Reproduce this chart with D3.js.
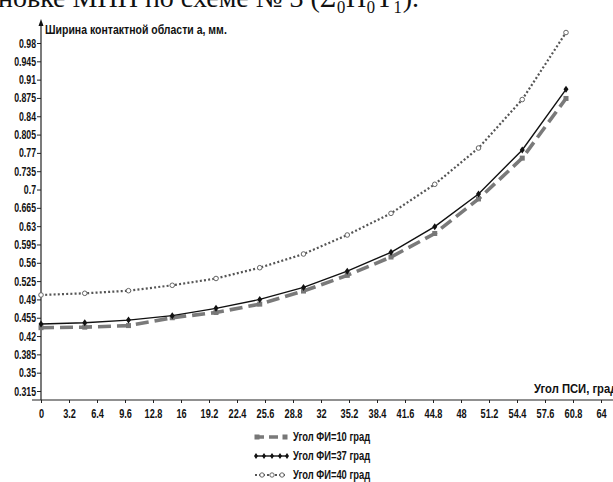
<!DOCTYPE html>
<html><head><meta charset="utf-8">
<script src="https://cdn.jsdelivr.net/npm/d3@7"></script>
<style>
html,body{margin:0;padding:0;background:#fff;}
svg{display:block;}
.t{font-family:"Liberation Sans","Arial",sans-serif;font-weight:bold;fill:#111;}
</style></head>
<body>
<svg id="c" width="613" height="482"></svg>
<script>
const xValues = [0,5,10,15,20,25,30,35,40,45,50,55,60];
const phi10 = [0.436,0.437,0.440,0.455,0.465,0.481,0.506,0.536,0.571,0.616,0.682,0.760,0.874];
const phi37 = [0.443,0.4455,0.4505,0.459,0.473,0.490,0.513,0.544,0.580,0.629,0.6915,0.7755,0.8915];
const phi40 = [0.4985,0.5017,0.5067,0.517,0.530,0.5506,0.5768,0.6131,0.6545,0.710,0.7793,0.872,1.000];
const seriesNames = ["Угол ФИ=10 град","Угол ФИ=37 град","Угол ФИ=40 град"];
const xTicks = [0,3.2,6.4,9.6,12.8,16,19.2,22.4,25.6,28.8,32,35.2,38.4,41.6,44.8,48,51.2,54.4,57.6,60.8,64];
const yTicks = [0.315,0.35,0.385,0.42,0.455,0.49,0.525,0.56,0.595,0.63,0.665,0.7,0.735,0.77,0.805,0.84,0.875,0.91,0.945,0.98];
const yTitle = "Ширина контактной области а, мм.";
const xTitle = "Угол ПСИ, град";
const headerText = "новке МНП по схеме № 3 (Σ₀H₀T₁).";

const svg = d3.select("#c");
const x = d3.scaleLinear().domain([0,64]).range([41,601]);
const y = d3.scaleLinear().domain([0.315,0.98]).range([391,43]);

function label(px, py, txt, size, sx, weight, anchor){
  const g = svg.append("g").attr("transform",`translate(${px},${py}) scale(${sx},1)`);
  g.append("text").attr("class","t").attr("font-size",size).attr("font-weight",weight||"bold")
    .attr("text-anchor",anchor||"start").text(txt);
  return g;
}

// header (cropped text)
svg.append("text").attr("x",-2).attr("y",7).attr("font-family","Liberation Serif, Times New Roman, serif")
  .attr("font-size",28).attr("fill","#111").text(headerText);

// axes
const XS = 0.68, YS = 0.7;
const xAxis = d3.axisBottom(x).tickValues(xTicks).tickSize(3).tickFormat(d=>String(d));
const gx = svg.append("g").attr("transform","translate(0,400)").call(xAxis);
gx.select(".domain").remove();
gx.selectAll("text").attr("class","t").attr("font-size",13.5).attr("dy",null).attr("y",18)
  .attr("transform",`scale(${XS},1)`);
gx.selectAll("line").attr("stroke","#222");
svg.append("line").attr("x1",32).attr("x2",613).attr("y1",400).attr("y2",400).attr("stroke","#222").attr("stroke-width",1.2);

const yAxis = d3.axisLeft(y).tickValues(yTicks).tickSize(4).tickFormat(d=>String(d));
const gy = svg.append("g").attr("transform","translate(41,0)").call(yAxis);
gy.select(".domain").remove();
gy.selectAll("text").attr("class","t").attr("font-size",12.5).attr("x",-5/YS)
  .attr("transform",`scale(${YS},1)`);
gy.selectAll("line").attr("stroke","#222");
svg.append("line").attr("x1",41).attr("x2",41).attr("y1",400).attr("y2",22).attr("stroke","#222").attr("stroke-width",1.2);
svg.append("path").attr("d","M41,19 L38.5,26 L43.5,26 Z").attr("fill","#111");

label(45, 34, yTitle, 12.5, 0.84);
label(534, 393, xTitle, 12.5, 0.9);

const line = d3.line().x(d=>x(d[0])).y(d=>y(d[1]));
const mk = arr => xValues.map((v,i)=>[v,arr[i]]);

// series 40 dotted
const s40 = mk(phi40);
svg.append("path").datum(s40).attr("d",line).attr("fill","none").attr("stroke","#555")
  .attr("stroke-width",2.2).attr("stroke-dasharray","2,2.2");
svg.selectAll(".c40").data(s40).enter().append("circle").attr("cx",d=>x(d[0])).attr("cy",d=>y(d[1]))
  .attr("r",2.3).attr("fill","#fff").attr("stroke","#666").attr("stroke-width",1);

// series 10 dashed gray
const s10 = mk(phi10);
svg.append("path").datum(s10).attr("d",line).attr("fill","none").attr("stroke","#7a7a7a")
  .attr("stroke-width",3.6).attr("stroke-dasharray","13,6");
svg.selectAll(".c10").data(s10).enter().append("rect").attr("x",d=>x(d[0])-2.5).attr("y",d=>y(d[1])-2.5)
  .attr("width",5).attr("height",5).attr("fill","#777");

// series 37 solid black
const s37 = mk(phi37);
svg.append("path").datum(s37).attr("d",line).attr("fill","none").attr("stroke","#111").attr("stroke-width",1.4);
svg.selectAll(".c37").data(s37).enter().append("path")
  .attr("transform",d=>`translate(${x(d[0])},${y(d[1])})`)
  .attr("d","M0,-3.5 L2.5,0 L0,3.5 L-2.5,0 Z").attr("fill","#111");

// legend
const ly = [437,456,475];
const lg = svg.append("g");
lg.append("line").attr("x1",255).attr("x2",287).attr("y1",ly[0]).attr("y2",ly[0]).attr("stroke","#7a7a7a").attr("stroke-width",3.6).attr("stroke-dasharray","9,5");
[257,285].forEach(cx=>lg.append("rect").attr("x",cx-2.5).attr("y",ly[0]-2.5).attr("width",5).attr("height",5).attr("fill","#777"));
lg.append("line").attr("x1",255).attr("x2",287).attr("y1",ly[1]).attr("y2",ly[1]).attr("stroke","#111").attr("stroke-width",1.4);
[256,264,272,280,287].forEach(cx=>lg.append("path").attr("transform",`translate(${cx},${ly[1]})`).attr("d","M0,-3 L2,0 L0,3 L-2,0 Z").attr("fill","#111"));
lg.append("line").attr("x1",255).attr("x2",287).attr("y1",ly[2]).attr("y2",ly[2]).attr("stroke","#555").attr("stroke-width",2).attr("stroke-dasharray","2,2");
[262,272,282].forEach(cx=>lg.append("circle").attr("cx",cx).attr("cy",ly[2]).attr("r",2.2).attr("fill","#fff").attr("stroke","#666"));
seriesNames.forEach((n,i)=>label(293, ly[i]+4, n, 12, 0.78, "normal"));
</script>
</body></html>
